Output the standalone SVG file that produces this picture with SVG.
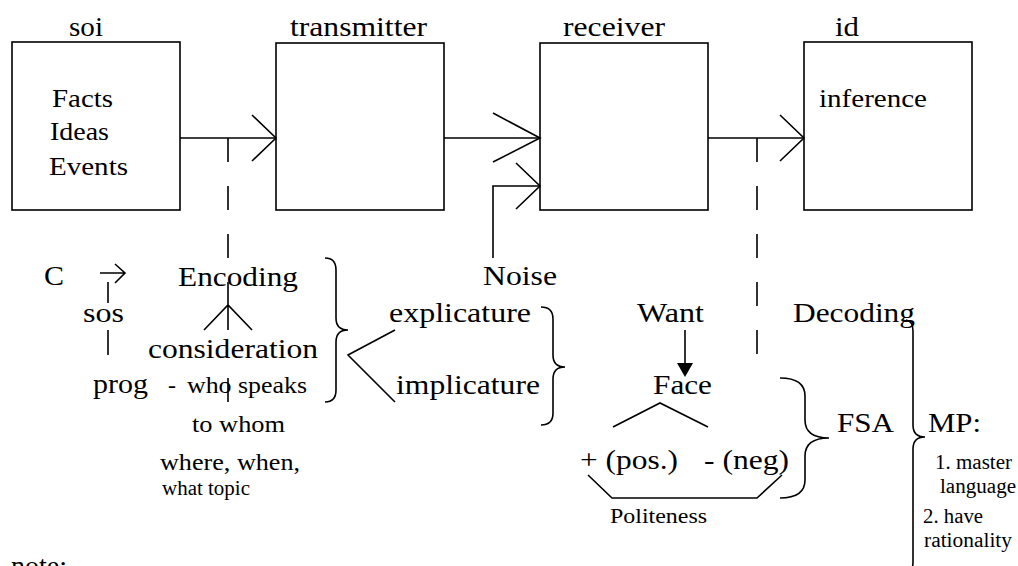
<svg xmlns="http://www.w3.org/2000/svg" width="1018" height="566" viewBox="0 0 1018 566">
  <style>
    text { font-family: "Liberation Serif", "Times New Roman", "DejaVu Serif", serif; fill: #000; }
    .lbl { font-size: 28px; }
    .box-txt { font-size: 25px; }
    .mid { font-size: 24px; }
    .sm { font-size: 20px; }
    .box { fill: none; stroke: #000; stroke-width: 1.6; }
    .ln { fill: none; stroke: #000; stroke-width: 1.6; }
    .dash { fill: none; stroke: #000; stroke-width: 1.6; stroke-dasharray: 24 24; }
  </style>
  <defs>
    <marker id="open" markerUnits="userSpaceOnUse" orient="auto" refX="0" refY="0" markerWidth="30" markerHeight="60" viewBox="-30 -30 30 60" overflow="visible">
      <path d="M-24,-23 L0,0 L-24,23" fill="none" stroke="#000" stroke-width="1.6"/>
    </marker>
    <marker id="wide" markerUnits="userSpaceOnUse" orient="auto" refX="0" refY="0" markerWidth="50" markerHeight="60" viewBox="-50 -30 50 60" overflow="visible">
      <path d="M-47,-25 L0,0 L-47,24" fill="none" stroke="#000" stroke-width="1.6"/>
    </marker>
  </defs>
  <rect width="1018" height="566" fill="#fff"/>

  <!-- main pipeline boxes -->
  <g id="soi">
    <rect class="box" x="12" y="42" width="168" height="168"/>
    <text class="lbl" x="69" y="36" textLength="34" lengthAdjust="spacingAndGlyphs">soi</text>
    <text class="box-txt" x="52" y="107" textLength="61" lengthAdjust="spacingAndGlyphs">Facts</text>
    <text class="box-txt" x="50" y="140" textLength="59" lengthAdjust="spacingAndGlyphs">Ideas</text>
    <text class="box-txt" x="49" y="175" textLength="79" lengthAdjust="spacingAndGlyphs">Events</text>
  </g>
  <g id="transmitter">
    <rect class="box" x="276" y="43" width="168" height="167"/>
    <text class="lbl" x="290" y="36" textLength="137" lengthAdjust="spacingAndGlyphs">transmitter</text>
  </g>
  <g id="receiver">
    <rect class="box" x="540" y="43" width="168" height="167"/>
    <text class="lbl" x="563" y="36" textLength="102" lengthAdjust="spacingAndGlyphs">receiver</text>
  </g>
  <g id="id">
    <rect class="box" x="804" y="42" width="168" height="168"/>
    <text class="lbl" x="835" y="36" textLength="24" lengthAdjust="spacingAndGlyphs">id</text>
    <text class="box-txt" x="819" y="107" textLength="108" lengthAdjust="spacingAndGlyphs">inference</text>
  </g>

  <!-- connectors between the boxes -->
  <g id="connectors">
    <line class="ln" x1="180" y1="138" x2="276" y2="138" marker-end="url(#open)"/>
    <line class="ln" x1="444" y1="138" x2="540" y2="138" marker-end="url(#wide)"/>
    <polyline class="ln" points="493,258 493,186 540,186" marker-end="url(#open)"/>
    <line class="ln" x1="708" y1="138" x2="804" y2="138" marker-end="url(#open)"/>
    <!-- encoding / decoding drop lines -->
    <line class="dash" x1="228" y1="138" x2="228" y2="258"/>
    <line class="dash" x1="757" y1="138" x2="757" y2="354"/>
  </g>

  <!-- encoding side -->
  <g id="encoding">
    <text class="lbl" x="44" y="285" textLength="20" lengthAdjust="spacingAndGlyphs">C</text>
    <path class="ln" d="M100,273 H124 M115,264 L125,273 L115,283" stroke-width="3"/>
    <line class="ln" x1="108" y1="282" x2="108" y2="303"/>
    <text class="lbl" x="83" y="322" textLength="41" lengthAdjust="spacingAndGlyphs">sos</text>
    <line class="ln" x1="108" y1="330" x2="108" y2="355"/>
    <text class="lbl" x="93" y="393" textLength="55" lengthAdjust="spacingAndGlyphs">prog</text>
    <text class="lbl" x="178" y="286" textLength="120" lengthAdjust="spacingAndGlyphs">Encoding</text>
    <path class="ln" d="M228,282 V330 M204,330 L228,305 L252,330 M228,378 V402"/>
    <text class="lbl" x="148" y="358" textLength="170" lengthAdjust="spacingAndGlyphs">consideration</text>
    <text class="mid" x="168" y="393">-</text>
    <text class="mid" x="187" y="393" textLength="120" lengthAdjust="spacingAndGlyphs">who speaks</text>
    <text class="mid" x="192" y="432" textLength="93" lengthAdjust="spacingAndGlyphs">to whom</text>
    <text class="mid" x="160" y="470" textLength="140" lengthAdjust="spacingAndGlyphs">where, when,</text>
    <text class="sm" x="162" y="495" textLength="88" lengthAdjust="spacingAndGlyphs">what topic</text>
    <path class="ln" d="M325,258 Q336,258 336,270 L336,318 Q336,330 348,330 Q336,330 336,342 L336,390 Q336,402 325,402"/>
  </g>

  <!-- explicature / implicature -->
  <g id="inference-types">
    <path class="ln" d="M395,330 L348,355 L395,402"/>
    <text class="lbl" x="389" y="322" textLength="142" lengthAdjust="spacingAndGlyphs">explicature</text>
    <text class="lbl" x="396" y="394" textLength="144" lengthAdjust="spacingAndGlyphs">implicature</text>
    <path class="ln" d="M541,307 Q553,307 553,319 L553,355 Q553,367 565,367 Q553,367 553,379 L553,413 Q553,425 541,425"/>
  </g>

  <g id="noise">
    <text class="lbl" x="483" y="285" textLength="74" lengthAdjust="spacingAndGlyphs">Noise</text>
  </g>

  <!-- face and politeness -->
  <g id="face">
    <text class="lbl" x="637" y="322" textLength="67" lengthAdjust="spacingAndGlyphs">Want</text>
    <line class="ln" x1="685" y1="330" x2="685" y2="365"/>
    <polygon points="677,363 693,363 685,377" fill="#000"/>
    <text class="lbl" x="653" y="394" textLength="59" lengthAdjust="spacingAndGlyphs">Face</text>
    <path class="ln" d="M613,427 L660,403 L708,427"/>
    <text class="lbl" x="580" y="469" textLength="98" lengthAdjust="spacingAndGlyphs">+ (pos.)</text>
    <text class="lbl" x="704" y="469" textLength="85" lengthAdjust="spacingAndGlyphs">- (neg)</text>
    <path class="ln" d="M588,475 L612,498 L757,498 L782,475"/>
    <text x="610" y="523" font-size="21" textLength="97" lengthAdjust="spacingAndGlyphs">Politeness</text>
    <path class="ln" d="M780,378 Q805,378 805,396 L805,420 Q805,438 829,438 Q805,438 805,456 L805,480 Q805,498 780,498"/>
    <text class="lbl" x="837" y="432" textLength="57" lengthAdjust="spacingAndGlyphs">FSA</text>
  </g>

  <!-- decoding side -->
  <g id="decoding">
    <text class="lbl" x="793" y="322" textLength="122" lengthAdjust="spacingAndGlyphs">Decoding</text>
    <path class="ln" d="M906,320 Q913,321 913,331 L913,425 Q913,437 925,437 Q913,437 913,449 L913,562 Q913,572 906,574"/>
    <text class="lbl" x="928" y="432" textLength="53" lengthAdjust="spacingAndGlyphs">MP:</text>
    <text class="sm" x="935" y="469" textLength="77" lengthAdjust="spacingAndGlyphs">1. master</text>
    <text class="sm" x="940" y="493" textLength="76" lengthAdjust="spacingAndGlyphs">language</text>
    <text class="sm" x="923" y="523" textLength="60" lengthAdjust="spacingAndGlyphs">2. have</text>
    <text class="sm" x="924" y="547" textLength="88" lengthAdjust="spacingAndGlyphs">rationality</text>
  </g>

  <text class="lbl" x="11" y="575">note:</text>
</svg>
